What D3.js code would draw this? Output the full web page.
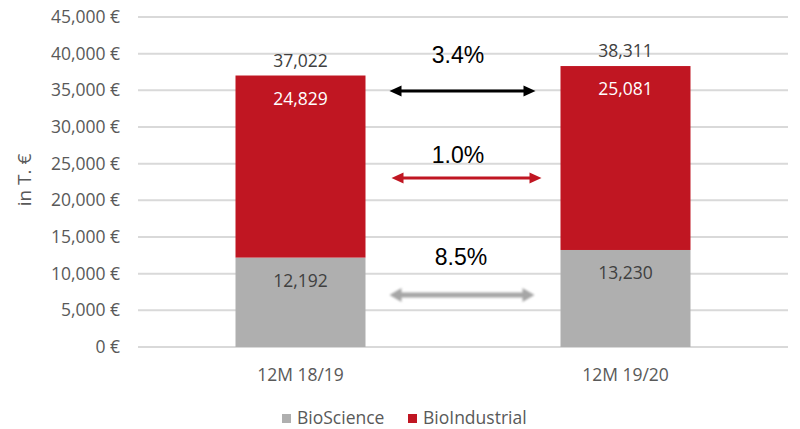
<!DOCTYPE html>
<html><head><meta charset="utf-8">
<script src="https://cdn.jsdelivr.net/npm/d3@7/dist/d3.min.js"></script>
<style>body{margin:0;background:#fff}svg{display:block}</style>
</head><body>
<svg id="c" width="800" height="429"></svg>
<script>
const categories = ["12M 18/19", "12M 19/20"];
const bioScience = [12192, 13230];
const bioIndustrial = [24829, 25081];
const totals = [37022, 38311];
const yTicks = [0, 5000, 10000, 15000, 20000, 25000, 30000, 35000, 40000, 45000];
const changeLabels = ["3.4%", "1.0%", "8.5%"];
const changeLevels = [34900, 23050, 7100];
const seriesNames = ["BioScience", "BioIndustrial"];

const colors = {BioScience: "#afafaf", BioIndustrial: "#c01622"};
const arrowColors = ["#000000", "#c01622", "#a6a6a6"];
const labelOffsets = [{dx: -5, dy: -28}, {dx: -5, dy: -15}, {dx: -2, dy: -30}];
const arrowEnds = [{l: 24, r: 25}, {l: 26, r: 19}, {l: 24, r: 26}];
const font = "'Open Sans', sans-serif";
const fs = "17.5px";
const svg = d3.select("#c");
const margin = {left: 138, right: 12, top: 17, bottom: 82};
const W = 800, H = 429;
const x = d3.scaleBand().domain(categories).range([margin.left, W - margin.right]).paddingInner(0.6).paddingOuter(0.3);
const y = d3.scaleLinear().domain([0, 45000]).range([H - margin.bottom, margin.top]);

// grid
svg.append("g").selectAll("line").data(yTicks).join("line")
  .attr("x1", margin.left).attr("x2", W - margin.right)
  .attr("y1", d => y(d)).attr("y2", d => y(d))
  .attr("stroke", "#d9d9d9").attr("stroke-width", 2);

// y axis labels
const fmt = d3.format(",");
const yAxis = svg.append("g").attr("transform", `translate(${margin.left - 18},0)`)
  .call(d3.axisLeft(y).tickValues(yTicks).tickSize(0).tickPadding(0).tickFormat(d => fmt(d) + " €"));
yAxis.select(".domain").remove();
yAxis.selectAll("text").attr("fill", "#595959").style("font-family", font).style("font-size", fs);

svg.append("text").attr("transform", "translate(31,180) rotate(-90)")
  .attr("text-anchor", "middle").attr("fill", "#595959")
  .style("font-family", font).style("font-size", "19px").text("in T. €");

// stacked bars
const rows = categories.map((c, i) => ({cat: c, BioScience: bioScience[i], BioIndustrial: bioIndustrial[i]}));
const stack = d3.stack().keys(seriesNames)(rows);
svg.append("g").selectAll("g").data(stack).join("g").attr("fill", d => colors[d.key])
  .selectAll("rect").data(d => d).join("rect")
  .attr("x", d => x(d.data.cat)).attr("width", x.bandwidth())
  .attr("y", d => y(d[1])).attr("height", d => y(d[0]) - y(d[1]));

// inner labels
stack.forEach(s => {
  svg.append("g").selectAll("text").data(s).join("text")
    .attr("x", d => x(d.data.cat) + x.bandwidth() / 2)
    .attr("y", d => y(d[1]) + 29)
    .attr("text-anchor", "middle")
    .attr("fill", s.key === "BioIndustrial" ? "#ffffff" : "#404040")
    .style("font-family", font).style("font-size", fs)
    .text(d => fmt(d[1] - d[0]));
});

// totals
svg.append("g").selectAll("text").data(totals).join("text")
  .attr("x", (d, i) => x(categories[i]) + x.bandwidth() / 2)
  .attr("y", d => y(d) - 9)
  .attr("text-anchor", "middle").attr("fill", "#404040")
  .style("font-family", font).style("font-size", fs)
  .text(d => fmt(d));

// x labels
svg.append("g").selectAll("text").data(categories).join("text")
  .attr("x", d => x(d) + x.bandwidth() / 2).attr("y", 381)
  .attr("text-anchor", "middle").attr("fill", "#595959")
  .style("font-family", font).style("font-size", fs).text(d => d);

// blur filter for gray arrow
const defs = svg.append("defs");
defs.append("filter").attr("id", "blur").attr("x", "-10%").attr("y", "-100%").attr("width", "120%").attr("height", "300%")
  .append("feGaussianBlur").attr("stdDeviation", 0.9);

// arrows
const bEnd = x(categories[0]) + x.bandwidth();
const bStart = x(categories[1]);
changeLevels.forEach((v, i) => {
  const ax1 = bEnd + arrowEnds[i].l, ax2 = bStart - arrowEnds[i].r;
  const g = svg.append("g");
  if (i === 2) g.attr("filter", "url(#blur)");
  const yy = y(v);
  const c = arrowColors[i];
  const sw = i === 2 ? 5 : 3;
  const hl = 12, hw = i === 2 ? 7 : 5.5;
  g.append("line").attr("x1", ax1 + hl - 2).attr("x2", ax2 - hl + 2).attr("y1", yy).attr("y2", yy)
    .attr("stroke", c).attr("stroke-width", sw);
  g.append("path").attr("d", `M${ax1},${yy}L${ax1 + hl},${yy - hw}L${ax1 + hl},${yy + hw}Z`).attr("fill", c);
  g.append("path").attr("d", `M${ax2},${yy}L${ax2 - hl},${yy - hw}L${ax2 - hl},${yy + hw}Z`).attr("fill", c);
  svg.append("text").attr("x", (bEnd + bStart) / 2 + labelOffsets[i].dx).attr("y", yy + labelOffsets[i].dy)
    .attr("text-anchor", "middle").attr("fill", "#000")
    .style("font-family", "'Liberation Sans', Arial, sans-serif").style("font-size", "23px")
    .text(changeLabels[i]);
});

// legend
const leg = svg.append("g");
const legX = [282, 408];
seriesNames.forEach((n, i) => {
  leg.append("rect").attr("x", legX[i]).attr("y", 414).attr("width", 9).attr("height", 9).attr("fill", colors[n]);
  leg.append("text").attr("x", legX[i] + 15).attr("y", 424).attr("fill", "#595959")
    .style("font-family", font).style("font-size", fs).text(n);
});
</script>
</body></html>
